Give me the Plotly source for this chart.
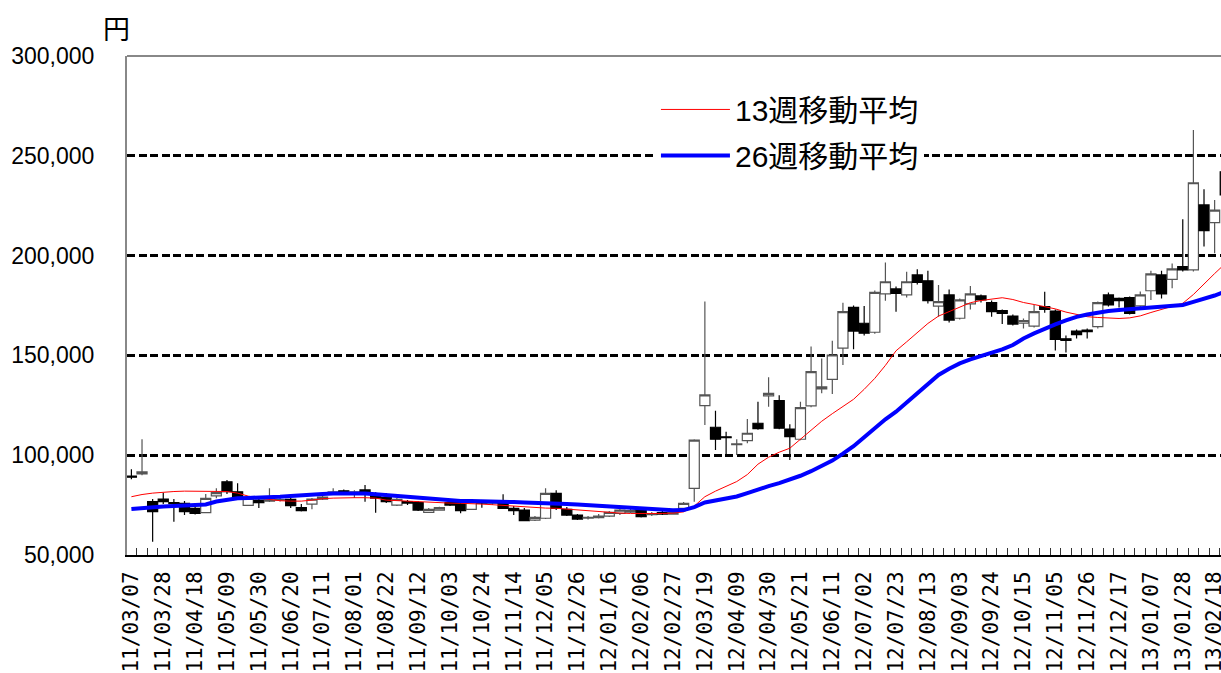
import plotly.graph_objects as go

# ---------------- data ----------------
tick_labels = ["11/03/07", "11/03/28", "11/04/18", "11/05/09", "11/05/30", "11/06/20",
               "11/07/11", "11/08/01", "11/08/22", "11/09/12", "11/10/03", "11/10/24",
               "11/11/14", "11/12/05", "11/12/26", "12/01/16", "12/02/06", "12/02/27",
               "12/03/19", "12/04/09", "12/04/30", "12/05/21", "12/06/11", "12/07/02",
               "12/07/23", "12/08/13", "12/09/03", "12/09/24", "12/10/15", "12/11/05",
               "12/11/26", "12/12/17", "13/01/07", "13/01/28", "13/02/18"]

open_ = [89500, 90600, 76700, 78000, 76200, 75900, 73400, 71200, 79600, 86700,
         81700, 74900, 77500, 77000, 77500, 77900, 73700, 75500, 78000, 80400,
         82200, 80700, 82600, 80500, 78900, 75000, 76800, 76200, 71400, 72500,
         76200, 76200, 72900, 76700, 76000, 75900, 73400, 72500, 67500, 68400,
         80900, 72900, 70000, 68400, 68700, 69500, 70900, 71500, 72900, 70200,
         71200, 70500, 73400, 83400, 124800, 114000, 109200, 105300, 107300, 116000,
         129700, 127300, 113100, 108000, 124700, 133200, 138000, 153600, 174100, 166100,
         161600, 180800, 183300, 180300, 190300, 187400, 174700, 180300, 168600, 175800,
         179800, 176400, 172400, 169700, 166100, 164700, 174400, 172200, 158300, 162200,
         162700, 164400, 180300, 178600, 178900, 174800, 182400, 190300, 188100, 194500,
         192800, 225400, 216500, 242000]
high_ = [93000, 108000, 78000, 81200, 78000, 77000, 74500, 80600, 83400, 87600,
         85900, 79500, 78500, 83400, 79800, 78500, 75500, 78500, 79500, 83400,
         82800, 82500, 85100, 81500, 81000, 78500, 77500, 77000, 73500, 74200,
         77000, 77000, 77500, 77500, 77500, 80400, 74500, 73500, 69500, 83400,
         82400, 74000, 70500, 69500, 70500, 72000, 73500, 74000, 74000, 71500,
         72000, 72000, 76500, 108000, 177000, 122300, 111800, 108000, 118100, 126800,
         139000, 130000, 115500, 126800, 154400, 148500, 157400, 176400, 175000, 174700,
         182500, 196600, 184500, 191900, 193100, 192400, 185300, 183000, 178500, 184800,
         180500, 177500, 173000, 170500, 168500, 175200, 181900, 173000, 160000, 163000,
         163500, 177000, 181500, 179000, 179500, 182000, 192400, 192400, 196100, 218200,
         262900, 233200, 227900, 245000]
low_ = [88000, 90000, 56700, 75500, 66700, 70000, 70300, 71000, 78400, 80500,
        77500, 74500, 73500, 76500, 76800, 73500, 71800, 72900, 77500, 80000,
        80200, 78500, 76700, 71200, 76000, 74500, 75000, 72000, 71000, 72200,
        74500, 70900, 72500, 73700, 75000, 73000, 70000, 67000, 67000, 68000,
        72500, 69500, 67500, 67800, 68300, 69000, 70000, 71000, 68800, 69500,
        70000, 70200, 72800, 76700, 115100, 102600, 100100, 100100, 106000, 112800,
        124300, 113000, 97600, 107500, 124000, 131000, 130700, 145200, 153100, 160000,
        160800, 177400, 171900, 179000, 185500, 176000, 169400, 166500, 168000, 173000,
        176500, 169400, 165700, 165000, 163500, 164000, 171400, 152400, 151400, 158500,
        158500, 163500, 174500, 174000, 170500, 174000, 177800, 178500, 183600, 192000,
        192000, 204500, 201200, 228000]
close_ = [89000, 91600, 71700, 76700, 75700, 71700, 70900, 78400, 81200, 81700,
          78400, 78400, 76200, 77600, 77800, 74700, 72200, 78000, 79000, 81700,
          80700, 81700, 80900, 78500, 76700, 77900, 76000, 72500, 72900, 73700,
          75000, 72200, 76700, 76000, 76500, 73400, 72200, 67200, 68900, 80900,
          73400, 70000, 68000, 68900, 69500, 71400, 72500, 72200, 69200, 70800,
          70500, 71200, 75900, 107600, 130200, 108000, 108800, 105700, 111000, 113300,
          131000, 113500, 109300, 123800, 141900, 134300, 150200, 171900, 162200, 161100,
          181600, 186900, 181100, 186900, 186600, 177400, 176900, 167700, 177800, 180800,
          177800, 171900, 171100, 165700, 167400, 171900, 173100, 158000, 157500, 160400,
          161900, 176400, 175300, 177400, 171100, 180300, 190800, 180800, 193300, 192800,
          236500, 212500, 222800, 230400]

ma13 = [79200, 80300, 81000, 81500, 81800, 82000, 82000, 82000, 82000, 81800,
        81000, 79500, 78500, 77800, 77200, 77000, 77000, 77500, 78200, 78500,
        78700, 78700, 78700, 78500, 77500, 77200, 77000, 76700, 76500, 76200,
        76000, 75900, 75800, 75500, 75200, 74800, 74400, 74000, 73700, 73500,
        73400, 73000, 72500, 72000, 71500, 71200, 71000, 70800, 70700, 70700,
        70800, 71000, 71600, 74500, 79200, 82000, 84300, 86800, 90300, 95500,
        99000, 101500, 103500, 108000, 112500, 117000, 120800, 124500, 128000, 133000,
        138500, 145000, 152300, 156800, 161300, 166000, 169700, 172000, 174200, 176400,
        177500, 178200, 178900, 178000, 176500, 175500, 174500, 173300, 171700, 170400,
        169400, 169000, 168600, 168500, 168800, 169800, 171500, 173000, 174500, 176100,
        180500, 186000, 191000, 196000]
ma26 = [73000, 73500, 74000, 74300, 74500, 74600, 74800, 75300, 76800, 77800,
        78400, 78600, 78700, 78800, 79200, 79600, 80100, 80400, 80600, 80800,
        80900, 80900, 80800, 80400, 80000, 79500, 79000, 78500, 78000, 77500,
        77200, 77000, 77000, 77000, 76800, 76700, 76500, 76300, 76200, 76000,
        75900, 75600, 75300, 75000, 74700, 74400, 74000, 73500, 73100, 72800,
        72500, 72400, 72500, 74000, 76300, 77300, 78300, 79300, 81000, 83000,
        84500, 86000, 87800, 89700, 92000, 94500, 97300, 100800, 104500, 109000,
        113500, 118000, 121800, 126400, 131000, 135600, 140200, 143300, 146000, 148000,
        149500, 151000, 153000, 155200, 158500, 161000, 163500, 165500, 167500, 169300,
        170500, 171500, 172200, 172800, 173200, 173800, 174300, 174600, 175000, 175300,
        176800, 178300, 180000, 182000]

y_ticks = [50000, 100000, 150000, 200000, 250000, 300000]
grid_vals = [100000, 150000, 200000, 250000]

# ---------------- figure ----------------
x = list(range(len(open_)))
tick_pos = list(range(0, 3 * len(tick_labels), 3))

fig = go.Figure()
fig.add_trace(go.Candlestick(
    x=x, open=open_, high=high_, low=low_, close=close_,
    increasing=dict(line=dict(color="#555555", width=1.2), fillcolor="white"),
    decreasing=dict(line=dict(color="black", width=1.2), fillcolor="black"),
    whiskerwidth=0, showlegend=False, hoverinfo="skip"))
fig.add_trace(go.Scatter(x=x, y=ma13, mode="lines", name="13週移動平均",
                         legendgroup="a", line=dict(color="#ff0000", width=1)))
fig.add_trace(go.Scatter(x=x, y=ma26, mode="lines", name="26週移動平均",
                         legendgroup="b", line=dict(color="#0000ff", width=4)))

base_font = "Liberation Sans, Arial, Noto Sans CJK JP"

fig.update_layout(
    width=1221, height=673,
    margin=dict(l=127, r=0, t=56, b=118, autoexpand=False),
    paper_bgcolor="white", plot_bgcolor="white",
    font=dict(family=base_font, size=22, color="black"),
    boxgap=0.05, boxgroupgap=0,
    showlegend=True,
    legend=dict(x=0.4835, y=0.945, xanchor="left", yanchor="top",
                bgcolor="white", borderwidth=0,
                font=dict(family=base_font, size=30, color="black"),
                itemwidth=69, tracegroupgap=4),
    xaxis=dict(range=[-0.414, 102.6], tickmode="array", tickvals=tick_pos,
               ticktext=tick_labels, tickangle=-90, ticks="",
               automargin=False,
               ticklabeloverflow="allow", ticklabelstandoff=6,
               showline=True, linecolor="black", linewidth=2,
               showgrid=False, zeroline=False,
               rangeslider=dict(visible=False),
               tickfont=dict(family="DejaVu Sans Mono", size=21),
               minor=dict(ticks="inside", tick0=-0.5, dtick=1, ticklen=7,
                          tickcolor="#333333", tickwidth=1, showgrid=False)),
    yaxis=dict(range=[50000, 300000], tickmode="array", tickvals=y_ticks,
               ticktext=[f"{v:,}" for v in y_ticks], ticks="",
               automargin=False,
               showline=True, linecolor="#888888", linewidth=2,
               showgrid=False, zeroline=False, ticklabelstandoff=26,
               tickfont=dict(size=23),
               minor=dict(tickmode="array", tickvals=grid_vals, ticks="",
                          showgrid=True, gridcolor="black", gridwidth=3,
                          griddash="8px,3.5px")),
    shapes=[dict(type="line", xref="paper", yref="paper", x0=0, x1=1, y0=1, y1=1,
                 line=dict(color="#888888", width=2))],
    annotations=[dict(text="円", xref="paper", yref="paper", x=-0.01, y=1.058,
                      xanchor="center", yanchor="middle", showarrow=False,
                      font=dict(family="Noto Sans CJK JP", size=27, color="black"))],
)

fig.write_html("out.html")
